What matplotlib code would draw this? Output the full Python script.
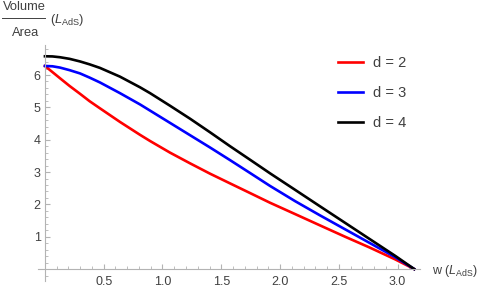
import matplotlib.pyplot as plt
from matplotlib.lines import Line2D
from matplotlib.ticker import MultipleLocator

plt.rcParams['font.family'] = ['Liberation Sans', 'DejaVu Sans']
plt.rcParams['mathtext.fontset'] = 'custom'
plt.rcParams['mathtext.rm'] = 'Liberation Sans'
plt.rcParams['mathtext.it'] = 'Liberation Sans:italic'

# values
w = [0.0, 0.064, 0.128, 0.21, 0.298, 0.38, 0.468, 0.638, 0.809, 0.894, 1.064, 1.234,
     1.404, 1.574, 1.745, 1.915, 2.128, 2.34, 2.553, 2.766, 2.979, 3.1416]
vol_d2 = [6.28, 6.09, 5.90, 5.66, 5.42, 5.19, 4.97, 4.55, 4.15, 3.96, 3.60, 3.27,
          2.95, 2.65, 2.35, 2.05, 1.70, 1.35, 1.00, 0.66, 0.30, 0.0]
vol_d3 = [6.28, 6.27, 6.23, 6.15, 6.05, 5.92, 5.77, 5.44, 5.09, 4.90, 4.52, 4.14,
          3.76, 3.37, 2.97, 2.57, 2.10, 1.66, 1.23, 0.80, 0.37, 0.0]
vol_d4 = [6.58, 6.575, 6.55, 6.50, 6.42, 6.33, 6.22, 5.95, 5.62, 5.44, 5.05, 4.65,
          4.23, 3.80, 3.38, 2.96, 2.45, 1.94, 1.43, 0.92, 0.41, 0.0]
labels = ["d = 2", "d = 3", "d = 4"]
colors = ["#ff0000", "#0000ff", "#000000"]

axis_gray = "#b3b3b3"
text_gray = "#404040"

fig = plt.figure(figsize=(4.86, 2.9), dpi=100)
ax = fig.add_axes([0.078, 0.031, 0.786, 0.814])

for ys, lab, col in zip([vol_d2, vol_d3, vol_d4], labels, colors):
    ax.plot(w, ys, color=col, lw=1.9, label=lab, solid_joinstyle="round")

ax.set_xlim(-0.06, 3.19)
ax.set_ylim(-0.37, 6.93)

for s in ["top", "right"]:
    ax.spines[s].set_visible(False)
for s in ["left", "bottom"]:
    ax.spines[s].set_position(("data", 0))
    ax.spines[s].set_color(axis_gray)
    ax.spines[s].set_linewidth(0.8)

ax.set_xticks([0.5, 1.0, 1.5, 2.0, 2.5, 3.0])
ax.set_xticklabels(["0.5", "1.0", "1.5", "2.0", "2.5", "3.0"])
ax.set_yticks([1, 2, 3, 4, 5, 6])
ax.xaxis.set_minor_locator(MultipleLocator(0.1))
ax.yaxis.set_minor_locator(MultipleLocator(0.2))
ax.tick_params(which="major", direction="in", length=3.6, width=0.8, color=axis_gray,
               labelsize=9, labelcolor=text_gray)
ax.tick_params(which="minor", direction="in", length=2.2, width=0.6, color=axis_gray)
ax.tick_params(axis="x", pad=5)
ax.tick_params(axis="y", pad=3)

# axis labels
fig.text(0.888, 0.066, "w ($L_{\\mathrm{AdS}}$)", fontsize=9, color=text_gray,
         ha="left", va="center")
fig.text(0.05, 0.975, "Volume", fontsize=9.3, color=text_gray, ha="center", va="center")
fig.text(0.052, 0.886, "Area", fontsize=9.3, color=text_gray, ha="center", va="center")
fig.add_artist(Line2D([0.004, 0.093], [0.937, 0.937], color=text_gray, lw=0.7))
fig.text(0.102, 0.931, "($L_{\\mathrm{AdS}}$)", fontsize=9.3, color=text_gray,
         ha="left", va="center")

ax.legend(loc="upper left", bbox_to_anchor=(0.68, 0.832), bbox_transform=fig.transFigure,
          frameon=False, fontsize=10.5, handlelength=1.71, handletextpad=0.7,
          labelspacing=1.1, borderpad=0, labelcolor=text_gray)

fig.savefig("out.png", dpi=100)
